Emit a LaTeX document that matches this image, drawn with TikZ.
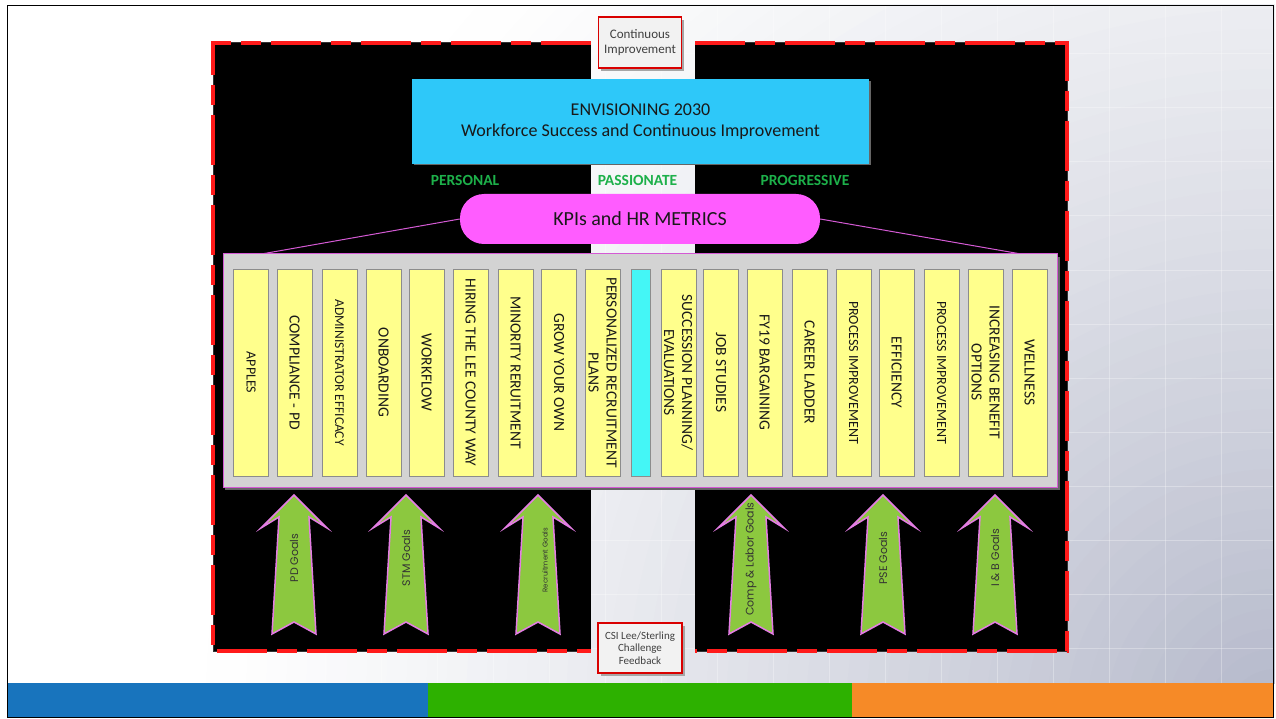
\documentclass[tikz,border=0pt]{standalone}
\usepackage{fontspec}
\setmainfont{Carlito}
\newfontfamily\goalfont{Poppins}
\usetikzlibrary{calc}

\definecolor{envcyan}{HTML}{2EC8F9}
\definecolor{kpimag}{HTML}{FF5CFF}
\definecolor{colyellow}{HTML}{FFFF8C}
\definecolor{colcyan}{HTML}{44F6F6}
\definecolor{boxgray}{HTML}{D3D3D3}
\definecolor{edgemag}{HTML}{D45AD4}
\definecolor{goalgreen}{HTML}{8CC83F}
\definecolor{goaledge}{HTML}{E47DE4}
\definecolor{pgreen}{HTML}{1DB04A}
\definecolor{dashred}{HTML}{FF1A1A}
\definecolor{bandblue}{HTML}{1874BD}
\definecolor{bandgreen}{HTML}{2DB100}
\definecolor{bandorange}{HTML}{F68A27}
\definecolor{bgA}{HTML}{B3B7C9}
\definecolor{notetext}{HTML}{404040}

\tikzset{
  gridline/.style={white, line width=1pt, opacity=.3},
  redash/.style={dashred, line width=3.5pt, dash pattern=on 50pt off 10pt on 20pt off 10pt},
  envbox/.style={fill=envcyan, minimum width=457pt, minimum height=85pt, inner sep=0pt, align=center,
                 text=black!90, font=\fontsize{18}{21}\selectfont},
  kpi/.style={fill=kpimag, rounded corners=24pt, minimum width=360pt, minimum height=50pt, inner sep=0pt,
              font=\fontsize{20}{24}\selectfont, text=black!90},
  kpiline/.style={edgemag, line width=1pt},
  container/.style={fill=boxgray, draw=edgemag, line width=1pt, minimum width=834pt, minimum height=233pt, inner sep=0pt},
  col/.style={rotate=-90, fill=colyellow, draw=black!45, line width=.8pt, minimum width=207pt, minimum height=35pt,
              inner sep=0pt, align=center, font=\fontsize{15.5}{18}\selectfont, text=black!90},
  pword/.style={text=pgreen, font=\bfseries\fontsize{15.5}{18}\selectfont},
  notebox/.style={fill=black!5, draw=red!85!black, line width=1.4pt, minimum width=83pt, minimum height=51pt,
                  inner sep=0pt, align=center, text=notetext},
  goalshape/.style={fill=goalgreen, draw=goaledge, line width=1.5pt, line join=miter},
  goallabel/.style={rotate=90, text=black!80, font=\goalfont\fontsize{11}{13}\selectfont, inner sep=0pt},
  goalarrow/.pic={\draw[goalshape] (0,495) -- (33,528) -- (15,517) -- (22,634) -- (0,622)
                   -- (-22,634) -- (-15,517) -- (-33,528) -- cycle;}
}

\begin{document}
\begin{tikzpicture}[x=1pt, y=-1pt]
\useasboundingbox (0,0) rectangle (1276,719);

% background: white, darkening towards the lower right corner, with a faint grid
\fill[white] (0,0) rectangle (1276,719);
\begin{scope}
  \clip (7,5) rectangle (1274,683);
  \foreach \r in {1090,1070,...,10} {
    \pgfmathsetmacro\p{100*(1-\r/1100)^1.3}
    \fill[bgA!\p!white] (1276,719) circle (\r);
  }
  \foreach \gx in {45,101,...,1270}
    \draw[gridline] (\gx,5) -- (\gx,683);
  \foreach \gy in {54,108,...,683}
    \draw[gridline] (7,\gy) -- (1274,\gy);
\end{scope}

% black panels with red dashed outline
\fill[black] (213,43) rectangle (591,651);
\fill[black] (695,43) rectangle (1067,651);
\draw[black!80, line width=1pt] (591,43) -- (213,43) -- (213,651) -- (591,651);
\draw[black!80, line width=1pt] (695,43) -- (1067,43) -- (1067,651) -- (695,651);
\draw[redash] (591,43) -- (213,43) -- (213,651) -- (591,651);
\draw[redash] (695,43) -- (1067,43) -- (1067,651) -- (695,651);

% side notes
\fill[black!35] (601,20) rectangle (684,71);
\node[notebox, font=\fontsize{13}{15}\selectfont] (ci) at (640,42.5) {Continuous\\Improvement};
\fill[black!35] (601,626) rectangle (685,676);
\node[notebox, minimum width=84pt, minimum height=50pt, font=\fontsize{11}{12.5}\selectfont] (csi) at (640,648) {CSI Lee/Sterling\\Challenge\\Feedback};

% vision banner
\fill[black!60] (414,81) rectangle (871,165);
\node[envbox] (env) at (640.5,121.5) {ENVISIONING 2030\\Workforce Success and Continuous Improvement};

% values
\node[pword] (personal) at (465,180) {PERSONAL};
\node[pword] (passionate) at (637.5,180) {PASSIONATE};
\node[pword] (progressive) at (805,180) {PROGRESSIVE};

% KPI pill and its container
\fill[black!60] (225,257) rectangle (1060,490);
\node[container] (cont) at (640,370.5) {};
\node[kpi] (kpi) at (640,219) {KPIs and HR METRICS};
\draw[kpiline] (kpi.west) -- ($(cont.north west)!0.05!(cont.north east)$);
\draw[kpiline] (kpi.east) -- ($(cont.north west)!0.953!(cont.north east)$);

% initiative columns
\foreach \cx/\ct [count=\i] in {
   251/{\fontsize{14}{16}\selectfont APPLES},
   294.5/{COMPLIANCE - PD},
   339.5/{\fontsize{13.5}{16}\selectfont ADMINISTRATOR EFFICACY},
   383.5/ONBOARDING,
   426.5/WORKFLOW,
   470.5/{HIRING THE LEE COUNTY WAY},
   515.5/{MINORITY RERUITMENT},
   559/{GROW YOUR OWN},
   602.5/{PERSONALIZED RECRUITMENT\\PLANS}} {
  \node[col] (col\i) at (\cx,372.5) {\ct};
}
\node[col, fill=colcyan, minimum height=19pt] (col10) at (640.5,372.5) {};
\foreach \cx/\ct [count=\i from 11] in {
   678.5/{SUCCESSION PLANNING/\\EVALUATIONS},
   721/{JOB STUDIES},
   764.5/{FY19 BARGAINING},
   809.5/{CAREER LADDER},
   853.5/{\fontsize{14}{16}\selectfont PROCESS IMPROVEMENT},
   896.5/EFFICIENCY,
   941.5/{\fontsize{14}{16}\selectfont PROCESS IMPROVEMENT},
   985.5/{INCREASING BENEFIT\\OPTIONS},
   1029.5/WELLNESS} {
  \node[col] (col\i) at (\cx,372.5) {\ct};
}

% goal arrows
\foreach \ax in {294,406,538,751,883,995} {
  \pic at (\ax,0) {goalarrow};
}
\node[goallabel] (g1) at (294,558) {PD Goals};
\node[goallabel] (g2) at (406,558) {STM Goals};
\node[goallabel, font=\goalfont\fontsize{7}{8}\selectfont] (g3) at (545,560) {Recruitment Goals};
\node[goallabel] (g4) at (751,559) {Comp \& Labor Goals};
\node[goallabel] (g5) at (883,558) {PSE Goals};
\node[goallabel] (g6) at (995,558) {I \& B Goals};

% footer bands and frame
\fill[bandblue] (7,683) rectangle (428,717);
\fill[bandgreen] (428,683) rectangle (852,717);
\fill[bandorange] (852,683) rectangle (1274,717);
\draw[line width=1.5pt] (7.5,5.5) rectangle (1273.5,717.5);
\end{tikzpicture}
\end{document}
